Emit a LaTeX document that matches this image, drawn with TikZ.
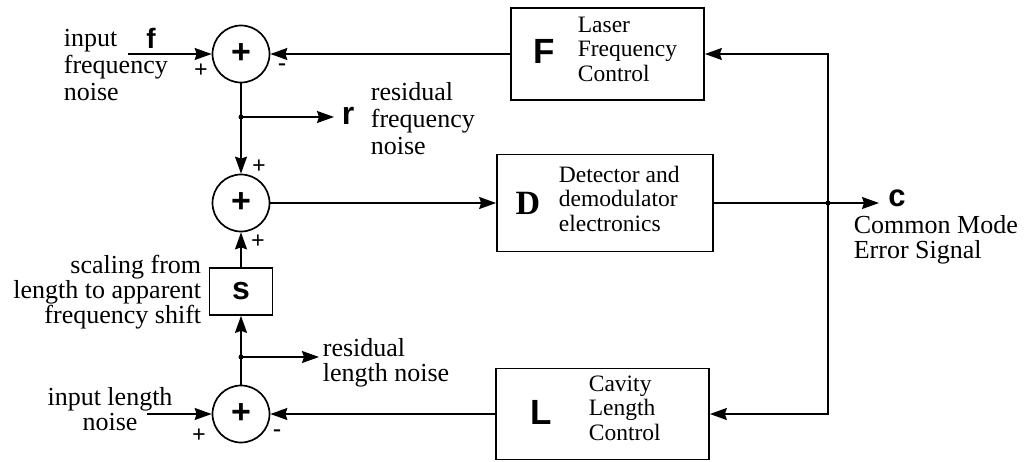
\documentclass[tikz,border=0pt]{standalone}
\usepackage{fontspec}
\setmainfont{Liberation Serif}
\newfontfamily\hv{Liberation Sans}
\usetikzlibrary{arrows.meta}
\begin{document}
\begin{tikzpicture}[x=1pt,y=-1pt,
  line width=1.7pt,
  arr/.style={-{Stealth[length=17pt,width=12pt,inset=2pt]}},
  sumnode/.style={draw,circle,minimum size=57pt,inner sep=0pt,font=\hv\bfseries\fontsize{34}{34}\selectfont},
  blk/.style={draw,rectangle,inner sep=0pt},
  dot/.style={circle,fill,inner sep=0pt,minimum size=5pt},
  lbl/.style={inner sep=0pt,font=\fontsize{26}{26}\selectfont},
  blbl/.style={inner sep=0pt,align=left,anchor=north west,font=\fontsize{23.5}{24.5}\selectfont},
  big/.style={inner sep=0pt,font=\hv\bfseries\fontsize{35}{35}\selectfont},
  sign/.style={inner sep=0pt,font=\bfseries\fontsize{24}{24}\selectfont}
]
\useasboundingbox (0,0) rectangle (1026,461);

% summing junctions
\node[sumnode] (s1) at (241,54) {+};
\node[sumnode] (s2) at (241,203) {+};
\node[sumnode] (s3) at (241,414) {+};

% blocks
\node[blk,minimum width=193pt,minimum height=92pt] (F) at (607.5,54) {};
\node[blk,minimum width=216pt,minimum height=97pt] (D) at (605,203) {};
\node[blk,minimum width=213pt,minimum height=91pt] (L) at (602.5,414) {};
\node[blk,minimum width=63pt,minimum height=47pt,font=\hv\bfseries\fontsize{32}{32}\selectfont] (S) at (241,291.5) {s};

% block letters and labels
\node[big] (Fl) at (544,51) {F};
\node[blbl] (Ft) at (577,16) {Laser\\Frequency\\Control};
\node[inner sep=0pt,font=\bfseries\fontsize{34}{34}\selectfont] (Dl) at (528,203) {D};
\node[blbl] (Dt) at (558,165) {Detector and\\demodulator\\electronics};
\node[big] (Ll) at (541,412) {L};
\node[blbl] (Lt) at (588,375) {Cavity\\Length\\Control};

% junction points
\node[dot] (j1) at (241,117) {};
\node[dot] (j2) at (241,357) {};
\node[dot] (jc) at (828,203) {};
\coordinate (fin) at (128,54);
\coordinate (lin) at (147,414);
\coordinate (rout) at (334,117);
\coordinate (lout) at (319,357);
\coordinate (cout) at (879,203);

% connectors
\draw[arr] (fin) -- (s1.west);
\draw[arr] (F.west) -- (s1.east);
\draw[arr] (s1.south) -- (s2.north);
\draw[arr] (j1.center) -- (rout);
\draw[arr] (s2.east) -- (D.west);
\draw[arr] (S.north) -- (s2.south);
\draw[arr] (s3.north) -- (S.south);
\draw[arr] (j2.center) -- (lout);
\draw[arr] (lin) -- (s3.west);
\draw[arr] (L.west) -- (s3.east);
\draw (D.east) -- (jc.center);
\draw[arr] (jc.center) -- (cout);
\draw[arr] (jc.center) |- (F.east);
\draw[arr] (jc.center) |- (L.east);

% signal letters
\node[inner sep=0pt,font=\hv\bfseries\fontsize{28}{28}\selectfont] (fl) at (151,38) {f};
\node[inner sep=0pt,font=\hv\bfseries\fontsize{32}{32}\selectfont] (rl) at (348,116) {r};
\node[inner sep=0pt,font=\hv\bfseries\fontsize{31}{31}\selectfont] (cl) at (897,198) {c};

% text labels
\node[lbl,align=left,anchor=north west,font=\fontsize{26}{27}\selectfont] (tin) at (63,28) {input\\frequency\\noise};
\node[lbl,align=left,anchor=north west,font=\fontsize{26}{27}\selectfont] (tres) at (370,82) {residual\\frequency\\noise};
\node[lbl,align=left,anchor=north west,font=\fontsize{26}{25}\selectfont] (tc) at (853,215) {Common Mode\\Error Signal};
\node[lbl,align=right,anchor=north east,font=\fontsize{26}{25}\selectfont] (tsc) at (202,254) {scaling from\\length to apparent\\frequency shift};
\node[lbl,align=left,anchor=north west,font=\fontsize{26}{25}\selectfont] (tlr) at (322,338) {residual\\length noise};
\node[lbl,align=center,anchor=north,font=\fontsize{26}{25}\selectfont] (tli) at (110,387) {input length\\noise};

% signs
\node[sign] at (201,71) {+};
\node[sign] at (282,67) {-};
\node[sign] at (259,167) {+};
\node[sign] at (258,242) {+};
\node[sign] at (199,436) {+};
\node[sign] at (277,433) {-};
\end{tikzpicture}
\end{document}
